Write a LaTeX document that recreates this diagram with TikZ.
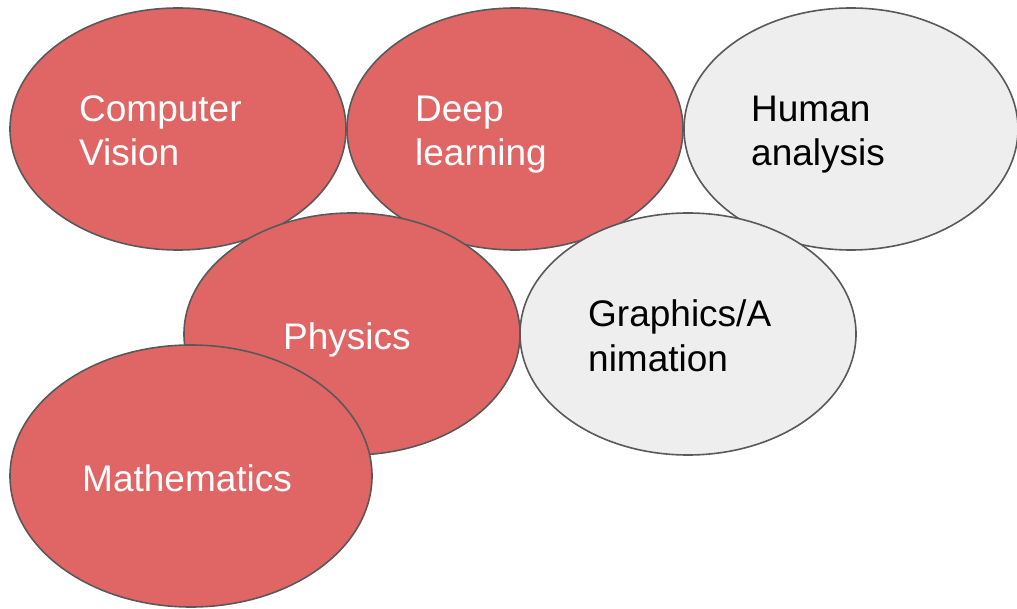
\documentclass[tikz,border=0pt]{standalone}
\usepackage{fontspec}
\setmainfont{Liberation Sans}
\usetikzlibrary{shapes.geometric}
\definecolor{topicred}{HTML}{E06666}
\definecolor{topicgray}{HTML}{EEEEEE}
\definecolor{rimgray}{HTML}{595959}
\tikzset{
  topic/.style={ellipse, draw=rimgray, line width=1.6pt, inner sep=0pt},
  redtopic/.style={topic, fill=topicred},
  graytopic/.style={topic, fill=topicgray},
  label/.style={anchor=base west, inner sep=0pt, align=left,
    font=\fontsize{37}{44}\selectfont},
  whitelabel/.style={label, text=white},
  blacklabel/.style={label, text=black}
}
\begin{document}
\begin{tikzpicture}[x=1pt, y=-1pt]
\useasboundingbox (0,0) rectangle (1017,609);
% top row
\node[redtopic, minimum width=336pt, minimum height=242pt] (cv) at (178,129) {};
\node[redtopic, minimum width=336pt, minimum height=242pt] (dl) at (515,129) {};
\node[graytopic, minimum width=334pt, minimum height=242pt] (ha) at (851,129) {};
% middle row
\node[redtopic, minimum width=336pt, minimum height=242pt] (ph) at (352,334) {};
\node[graytopic, minimum width=336pt, minimum height=242pt] (ga) at (688,334) {};
% bottom
\node[redtopic, minimum width=362pt, minimum height=262pt] (ma) at (191,476) {};
% labels (base anchor sits on the last line)
\node[whitelabel] (cvt) at (79,166) {Computer\\Vision};
\node[whitelabel] (dlt) at (415,166) {Deep\\learning};
\node[blacklabel] (hat) at (751,166) {Human\\analysis};
\node[whitelabel] (pht) at (283,349) {Physics};
\node[blacklabel] (gat) at (588,371) {Graphics/A\\nimation};
\node[whitelabel] (mat) at (82,491) {Mathematics};
\end{tikzpicture}
\end{document}
